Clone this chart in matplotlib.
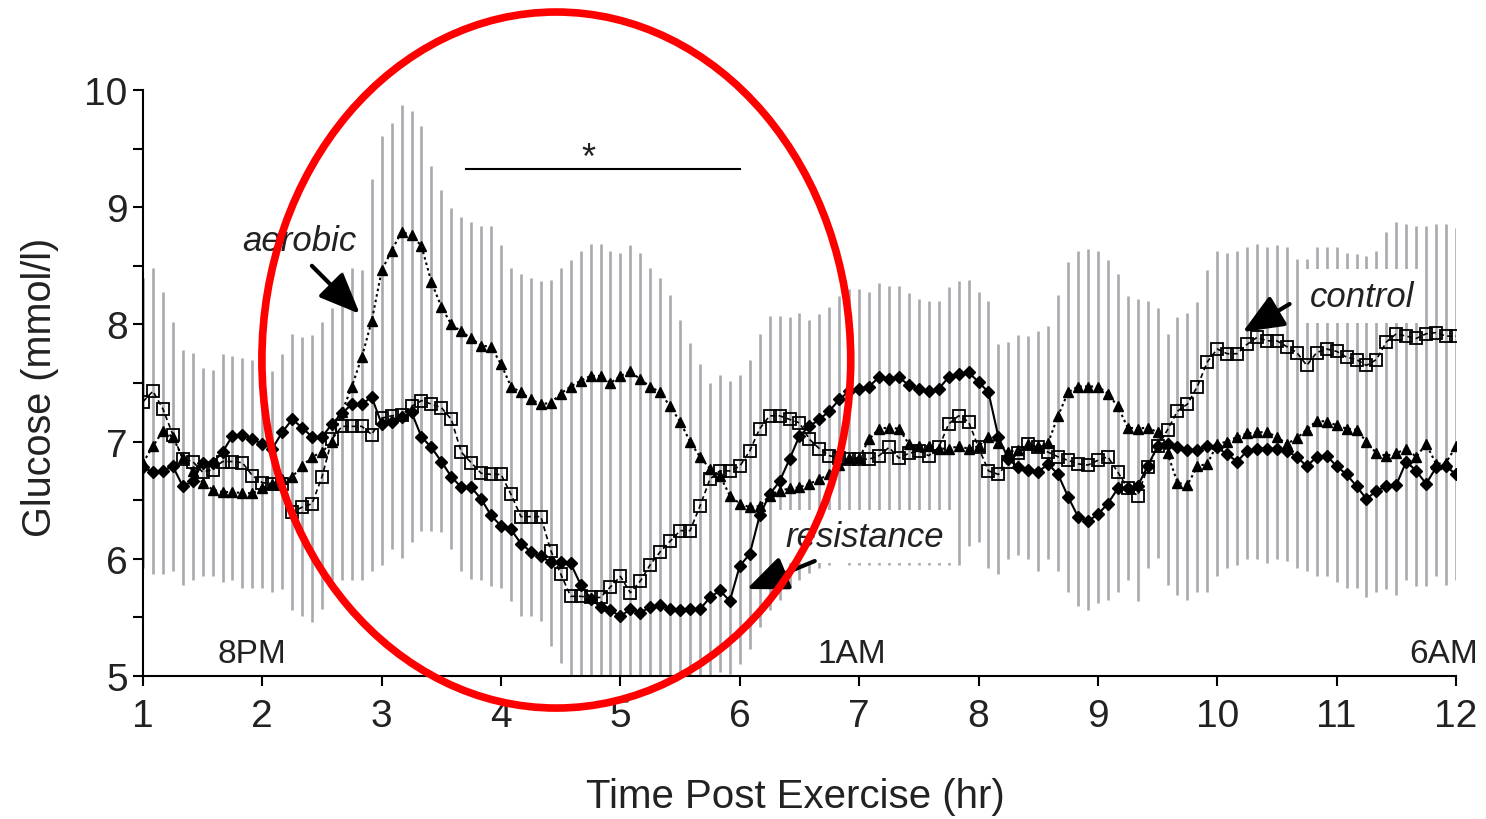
import numpy as np
import matplotlib.pyplot as plt
from matplotlib.patches import Ellipse

plt.rcParams['font.family'] = ['Liberation Sans', 'DejaVu Sans']

# 5-minute samples from 1 h to 12 h post exercise
minutes = np.arange(0, 665, 5)

# mean glucose (mmol/l), one row per hour
resistance = [6.78, 6.74, 6.75, 6.79, 6.62, 6.66, 6.82, 6.82, 6.91, 7.05, 7.06, 7.02,
              6.98, 6.94, 7.08, 7.19, 7.12, 7.04, 7.04, 7.15, 7.24, 7.32, 7.32, 7.38,
              7.15, 7.17, 7.21, 7.25, 7.04, 6.95, 6.83, 6.70, 6.61, 6.61, 6.51, 6.37,
              6.28, 6.25, 6.13, 6.06, 6.02, 5.97, 5.97, 5.96, 5.78, 5.66, 5.59, 5.56,
              5.51, 5.57, 5.54, 5.59, 5.61, 5.57, 5.56, 5.57, 5.57, 5.67, 5.73, 5.64,
              5.94, 6.04, 6.37, 6.55, 6.66, 6.85, 7.05, 7.13, 7.19, 7.26, 7.36, 7.43,
              7.45, 7.47, 7.55, 7.53, 7.55, 7.48, 7.45, 7.43, 7.45, 7.55, 7.58, 7.59,
              7.51, 7.42, 7.04, 6.85, 6.78, 6.76, 6.74, 6.81, 6.72, 6.53, 6.36, 6.32,
              6.38, 6.47, 6.60, 6.60, 6.62, 6.79, 6.96, 6.98, 6.95, 6.93, 6.93, 6.96,
              6.95, 6.89, 6.83, 6.92, 6.94, 6.94, 6.94, 6.92, 6.87, 6.79, 6.87, 6.88,
              6.79, 6.72, 6.62, 6.51, 6.58, 6.62, 6.63, 6.83, 6.75, 6.64, 6.78, 6.79,
              6.72]

aerobic = [6.82, 6.96, 7.09, 7.04, 6.86, 6.75, 6.65, 6.59, 6.57, 6.57, 6.56, 6.56,
           6.60, 6.64, 6.68, 6.70, 6.79, 6.87, 6.91, 7.00, 7.25, 7.47, 7.72, 8.03,
           8.46, 8.63, 8.79, 8.76, 8.67, 8.36, 8.15, 8.00, 7.94, 7.88, 7.82, 7.81,
           7.66, 7.47, 7.42, 7.36, 7.32, 7.33, 7.41, 7.47, 7.52, 7.56, 7.56, 7.50,
           7.56, 7.60, 7.53, 7.47, 7.42, 7.30, 7.17, 7.00, 6.87, 6.77, 6.71, 6.54,
           6.47, 6.44, 6.45, 6.54, 6.58, 6.60, 6.61, 6.64, 6.68, 6.72, 6.80, 6.86,
           6.86, 7.02, 7.11, 7.12, 7.11, 6.98, 6.96, 6.96, 6.94, 6.94, 6.96, 6.94,
           6.96, 7.04, 6.99, 6.91, 6.93, 6.98, 6.96, 6.99, 7.22, 7.42, 7.47, 7.47,
           7.47, 7.41, 7.30, 7.12, 7.11, 7.12, 7.08, 6.90, 6.65, 6.63, 6.79, 6.81,
           6.98, 7.00, 7.04, 7.07, 7.08, 7.08, 7.04, 6.98, 7.03, 7.10, 7.18, 7.17,
           7.14, 7.11, 7.10, 7.00, 6.90, 6.88, 6.90, 6.94, 6.87, 6.98, 6.81, 6.82,
           6.96]

control = [7.34, 7.43, 7.28, 7.06, 6.85, 6.83, 6.74, 6.76, 6.83, 6.83, 6.82, 6.71,
           6.65, 6.64, 6.64, 6.40, 6.44, 6.47, 6.70, 7.02, 7.13, 7.13, 7.13, 7.06,
           7.20, 7.22, 7.23, 7.30, 7.35, 7.32, 7.29, 7.19, 6.91, 6.82, 6.73, 6.72,
           6.72, 6.55, 6.36, 6.36, 6.36, 6.07, 5.87, 5.68, 5.68, 5.67, 5.67, 5.76,
           5.85, 5.71, 5.81, 5.95, 6.06, 6.15, 6.24, 6.24, 6.45, 6.68, 6.75, 6.75,
           6.79, 6.92, 7.11, 7.22, 7.22, 7.19, 7.16, 7.02, 6.94, 6.88, 6.86, 6.85,
           6.85, 6.85, 6.88, 6.95, 6.86, 6.90, 6.92, 6.88, 6.95, 7.15, 7.22, 7.17,
           6.95, 6.75, 6.72, 6.83, 6.90, 6.98, 6.95, 6.91, 6.87, 6.84, 6.81, 6.80,
           6.84, 6.87, 6.74, 6.60, 6.54, 6.78, 6.96, 7.10, 7.26, 7.32, 7.47, 7.68,
           7.79, 7.75, 7.75, 7.83, 7.89, 7.86, 7.86, 7.81, 7.76, 7.65, 7.76, 7.79,
           7.77, 7.72, 7.70, 7.65, 7.70, 7.85, 7.92, 7.90, 7.88, 7.92, 7.93, 7.90,
           7.90]

# grey error bars (overall upper / lower extent at each time point)
err_hi = [8.40, 8.48, 8.28, 8.02, 7.78, 7.76, 7.63, 7.61, 7.75, 7.73, 7.71, 7.70,
          7.65, 7.60, 7.75, 7.92, 7.89, 7.91, 8.02, 8.14, 8.45, 8.48, 8.46, 9.24,
          9.61, 9.72, 9.87, 9.82, 9.69, 9.35, 9.15, 8.99, 8.92, 8.87, 8.84, 8.84,
          8.68, 8.48, 8.43, 8.40, 8.37, 8.38, 8.48, 8.55, 8.63, 8.69, 8.69, 8.63,
          8.61, 8.68, 8.61, 8.48, 8.40, 8.25, 8.04, 7.84, 7.66, 7.50, 7.57, 7.52,
          7.57, 7.70, 7.92, 8.07, 8.07, 8.06, 8.10, 8.04, 8.09, 8.15, 8.24, 8.30,
          8.30, 8.28, 8.35, 8.33, 8.33, 8.27, 8.22, 8.20, 8.20, 8.32, 8.37, 8.38,
          8.28, 8.20, 7.83, 7.85, 7.91, 7.90, 7.94, 7.99, 8.25, 8.53, 8.63, 8.64,
          8.63, 8.55, 8.43, 8.24, 8.22, 8.20, 8.14, 7.92, 8.06, 8.10, 8.19, 8.46,
          8.63, 8.61, 8.63, 8.66, 8.69, 8.66, 8.68, 8.66, 8.56, 8.56, 8.66, 8.66,
          8.66, 8.61, 8.60, 8.58, 8.63, 8.79, 8.87, 8.86, 8.84, 8.84, 8.86, 8.86,
          8.82]

err_lo = [5.92, 5.87, 5.87, 5.90, 5.78, 5.82, 5.85, 5.85, 5.80, 5.82, 5.75, 5.75,
          5.75, 5.72, 5.74, 5.56, 5.51, 5.46, 5.57, 5.82, 5.82, 5.82, 5.82, 5.90,
          5.95, 6.08, 6.01, 6.14, 6.24, 6.24, 6.23, 6.08, 5.90, 5.83, 5.82, 5.77,
          5.75, 5.64, 5.51, 5.51, 5.47, 5.26, 5.11, 5.00, 5.00, 5.00, 5.00, 5.00,
          5.00, 5.00, 5.00, 5.00, 5.00, 5.00, 5.00, 5.00, 5.00, 5.00, 5.03, 5.02,
          5.10, 5.23, 5.42, 5.56, 5.65, 5.75, 5.82, 5.88, 5.92, 5.95, 6.08, 5.95,
          5.95, 5.95, 5.95, 5.95, 5.95, 5.95, 5.95, 5.95, 5.95, 5.95, 5.95, 6.11,
          6.14, 5.92, 5.87, 6.00, 6.03, 6.00, 5.90, 6.00, 5.90, 5.72, 5.60, 5.56,
          5.62, 5.65, 5.72, 5.82, 5.64, 5.92, 6.01, 5.78, 5.69, 5.65, 5.72, 5.72,
          5.85, 5.92, 5.95, 6.00, 6.00, 5.96, 6.00, 5.98, 5.92, 5.90, 5.85, 5.85,
          5.80, 5.75, 5.75, 5.67, 5.72, 5.74, 5.69, 5.82, 5.77, 5.77, 5.85, 5.78,
          5.82]

hours = list(range(1, 13))
clock_labels = {1.91: '8PM', 6.94: '1AM', 11.9: '6AM'}

t = 1 + minutes / 60.0

fig = plt.figure(figsize=(14.86, 8.2), dpi=100)
ax = fig.add_axes([0.0962, 0.1744, 0.8836, 0.7146])

ax.vlines(t, err_lo, err_hi, colors='#a9a9ae', lw=1.9, zorder=1)

ax.plot(t, control, ls=(0, (3, 2)), lw=1.2, color='black', marker='s', ms=8,
        mfc='none', mec='black', mew=1.3, zorder=4)
ax.plot(t, aerobic, ls=(0, (1.2, 1.5)), lw=1.5, color='black', marker='^', ms=7.5,
        mfc='black', mec='black', zorder=5)
ax.plot(t, resistance, ls='-', lw=1.5, color='black', marker='D', ms=6.3,
        mfc='black', mec='black', zorder=6)

# labels with white boxes hiding the bars behind them
box = dict(boxstyle='square,pad=0.3', fc='white', ec='none')
ax.text(2.31, 8.72, 'aerobic', fontsize=25, style='italic', ha='center', va='center',
        color='#222222', bbox=box, zorder=2)
ax.text(11.21, 8.24, 'control', fontsize=25, style='italic', ha='center', va='center',
        color='#222222', bbox=box, zorder=2)
ax.text(7.05, 6.19, 'resistance', fontsize=25, style='italic', ha='center', va='center',
        color='#222222', bbox=box, zorder=2)

arrow = dict(arrowstyle='-|>,head_length=1.0,head_width=0.42', mutation_scale=25,
             lw=3, color='black', shrinkA=0, shrinkB=0)
ax.annotate('', xy=(2.817, 8.09), xytext=(2.415, 8.50), arrowprops=arrow, zorder=7)
ax.annotate('', xy=(10.213, 7.935), xytext=(10.606, 8.174), arrowprops=arrow, zorder=7)
ax.annotate('', xy=(6.059, 5.742), xytext=(6.628, 5.981), arrowprops=arrow, zorder=7)

for x, lab in clock_labels.items():
    ax.text(x, 5.19, lab, fontsize=24, ha='center', va='center', color='#222222')

# significance bar
ax.plot([3.71, 6.0], [9.33, 9.33], color='black', lw=1.5, zorder=7)
ax.text(4.73, 9.42, '*', fontsize=26, ha='center', va='center', color='#222222')

ell = Ellipse((4.463, 7.696), width=4.933, height=5.939, fill=False,
              ec='#ff0000', lw=5.5, clip_on=False, zorder=10)
ax.add_patch(ell)

ax.set_xlim(1, 12)
ax.set_ylim(5, 10)
ax.set_xticks(hours)
ax.set_yticks(range(5, 11))
ax.set_yticks(np.arange(5.5, 10, 1.0), minor=True)
ax.tick_params(axis='both', which='both', direction='out', length=7, width=1.5,
               labelsize=28, colors='black', labelcolor='#222222')
ax.tick_params(axis='x', pad=9)
ax.tick_params(axis='y', pad=4)
for s in ['top', 'right']:
    ax.spines[s].set_visible(False)
for s in ['left', 'bottom']:
    ax.spines[s].set_linewidth(1.5)

fig.text(0.535, 0.028, 'Time Post Exercise (hr)', fontsize=29, ha='center',
         va='center', color='#222222')
fig.text(0.027, 0.527, 'Glucose (mmol/l)', fontsize=28.5, ha='center', va='center',
         rotation=90, color='#222222')

fig.savefig('out.png', dpi=100)
